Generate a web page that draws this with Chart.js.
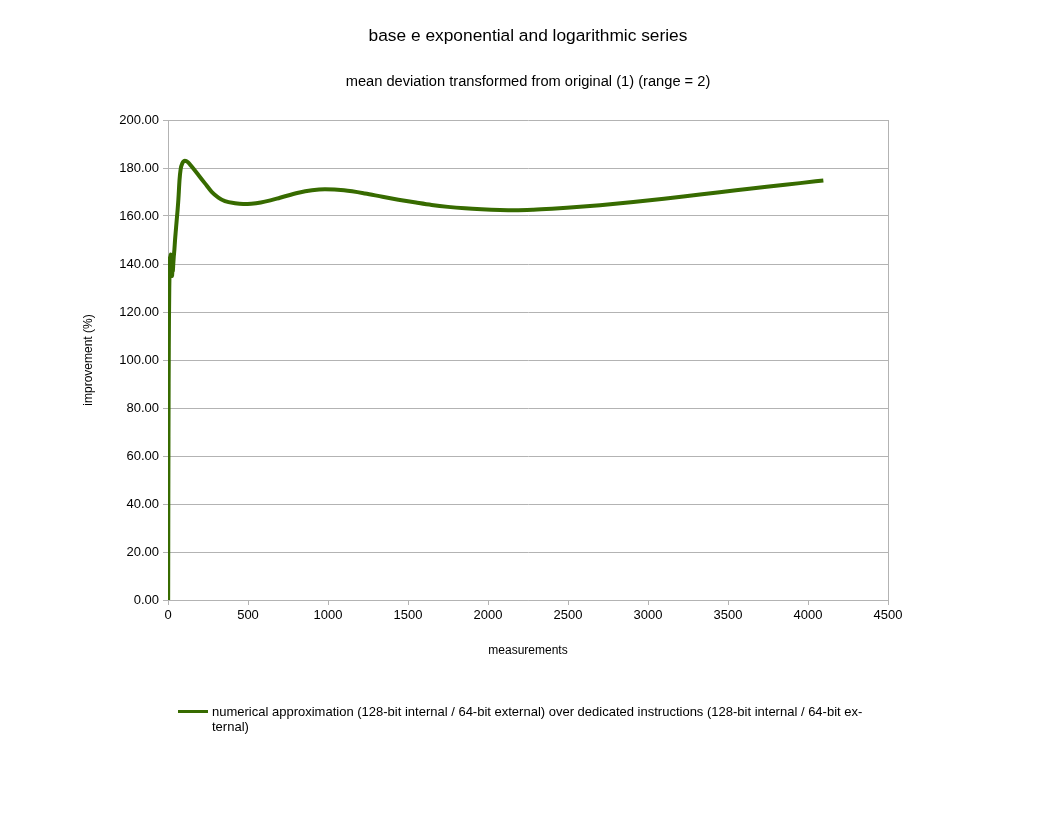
<!DOCTYPE html>
<html>
<head>
<meta charset="utf-8">
<script src="https://cdn.jsdelivr.net/npm/chart.js@4.4.0/dist/chart.umd.min.js"></script>
<style>
  html, body { margin: 0; padding: 0; background: #ffffff; }
  #wrap { position: relative; width: 1056px; height: 816px; }
  #legend { position: absolute; left: 178px; top: 704px; width: 700px;
    font-family: "Liberation Sans", Arial, sans-serif; font-size: 13px; line-height: 15px; color: #000; }
  #legend .swatch { position: absolute; left: 0; top: 6px; width: 30px; height: 3px; }
  #legend .txt { position: absolute; left: 34px; top: 0; width: 660px; }
</style>
</head>
<body>
<div id="wrap">
  <canvas id="c" width="1056" height="816"></canvas>
  <div id="legend"><div class="swatch"></div><div class="txt"></div></div>
</div>
<script>
const chartTitle = "base e exponential and logarithmic series";
const chartSubtitle = "mean deviation transformed from original (1) (range = 2)";
const xAxisTitle = "measurements";
const yAxisTitle = "improvement (%)";
const seriesLabelLines = ["numerical approximation (128-bit internal / 64-bit external) over dedicated instructions (128-bit internal / 64-bit ex-", "ternal)"];
const seriesName = seriesLabelLines.join("");

const measurements = [1, 2, 3, 4, 5, 6, 8, 10, 12, 14, 16, 18, 20, 22, 24, 26, 28, 30, 33, 36, 40, 44, 49, 54, 60, 65, 72, 79, 90, 106, 125, 148, 190, 231, 273, 315, 356, 419, 470, 520, 580, 640, 700, 815, 900, 981, 1100, 1231, 1340, 1440, 1550, 1648, 1750, 1856, 1960, 2075, 2169, 2283, 2400, 2492, 2700, 2908, 3100, 3325, 3550, 3742, 3950, 4096];
const improvement = [0, 40, 68, 90, 105, 116, 130, 138, 143, 136, 144, 135, 143, 136, 142, 135, 141, 137, 140, 143, 146, 150, 154, 158, 162.5, 167, 175, 179.5, 182, 183, 182.4, 180.6, 177.1, 173.6, 170.1, 167.7, 166.2, 165.3, 165.0, 165.1, 165.6, 166.5, 167.6, 169.7, 170.7, 171.1, 170.7, 169.4, 168, 166.8, 165.6, 164.6, 163.8, 163.2, 162.8, 162.5, 162.4, 162.6, 163.0, 163.4, 164.5, 165.8, 167.2, 169.0, 170.7, 172.2, 173.7, 174.8];

const xTickMin = 0, xTickMax = 4500, xTickStep = 500;
const yTickMin = 0, yTickMax = 200, yTickStep = 20;

const lineColor = "#376b00";
const gridColor = "#b3b3b3";
const fontFamily = "'Liberation Sans', Arial, sans-serif";

const points = measurements.map((x, i) => ({ x: x, y: improvement[i] }));

document.querySelector('#legend .swatch').style.background = lineColor;
const txt = document.querySelector('#legend .txt');
seriesLabelLines.forEach((l, i) => {
  if (i) txt.appendChild(document.createElement('br'));
  txt.appendChild(document.createTextNode(l));
});

new Chart(document.getElementById('c'), {
  type: 'scatter',
  data: {
    datasets: [{
      label: seriesName,
      data: points,
      showLine: true,
      borderColor: lineColor,
      backgroundColor: lineColor,
      borderWidth: 4,
      pointRadius: 0,
      cubicInterpolationMode: 'monotone',
      borderCapStyle: 'butt'
    }]
  },
  options: {
    responsive: false,
    animation: false,
    devicePixelRatio: 1,
    layout: { padding: { left: 0, right: 0, top: 0, bottom: 156 } },
    plugins: {
      legend: { display: false },
      tooltip: { enabled: false },
      title: {
        display: true, text: chartTitle, color: '#000',
        font: { family: fontFamily, size: 17.33, weight: 'normal' },
        padding: { top: 26, bottom: 0 }
      },
      subtitle: {
        display: true, text: chartSubtitle, color: '#000',
        font: { family: fontFamily, size: 14.67, weight: 'normal' },
        padding: { top: 26, bottom: 29.6 }
      }
    },
    scales: {
      x: {
        type: 'linear', min: xTickMin, max: xTickMax,
        afterFit: (s) => { s.height = 60; },
        ticks: { stepSize: xTickStep, color: '#000', padding: 3, maxRotation: 0,
          font: { family: fontFamily, size: 13 },
          callback: (v) => String(v) },
        grid: {
          color: (ctx) => (ctx.tick && ctx.tick.value === xTickMax) ? gridColor : 'rgba(0,0,0,0)',
          tickColor: gridColor, tickLength: 5, drawOnChartArea: true
        },
        border: { color: gridColor },
        title: { display: true, text: xAxisTitle, color: '#000',
          font: { family: fontFamily, size: 12 }, padding: { top: 0, bottom: 1.8 } }
      },
      y: {
        min: yTickMin, max: yTickMax,
        afterFit: (s) => { s.width = 168; },
        ticks: { stepSize: yTickStep, color: '#000', padding: 4,
          font: { family: fontFamily, size: 13 },
          callback: (v) => Number(v).toFixed(2) },
        grid: { color: gridColor, tickColor: gridColor, tickLength: 5 },
        border: { color: gridColor },
        title: { display: true, text: yAxisTitle, color: '#000',
          font: { family: fontFamily, size: 12 }, padding: { top: 81, bottom: 0 } }
      },
      spacer: {
        type: 'linear', position: 'right', display: true,
        afterFit: (s) => { s.width = 168; },
        ticks: { display: false },
        grid: { display: false, drawOnChartArea: false },
        border: { display: false },
        title: { display: false }
      }
    }
  }
});
</script>
</body>
</html>
